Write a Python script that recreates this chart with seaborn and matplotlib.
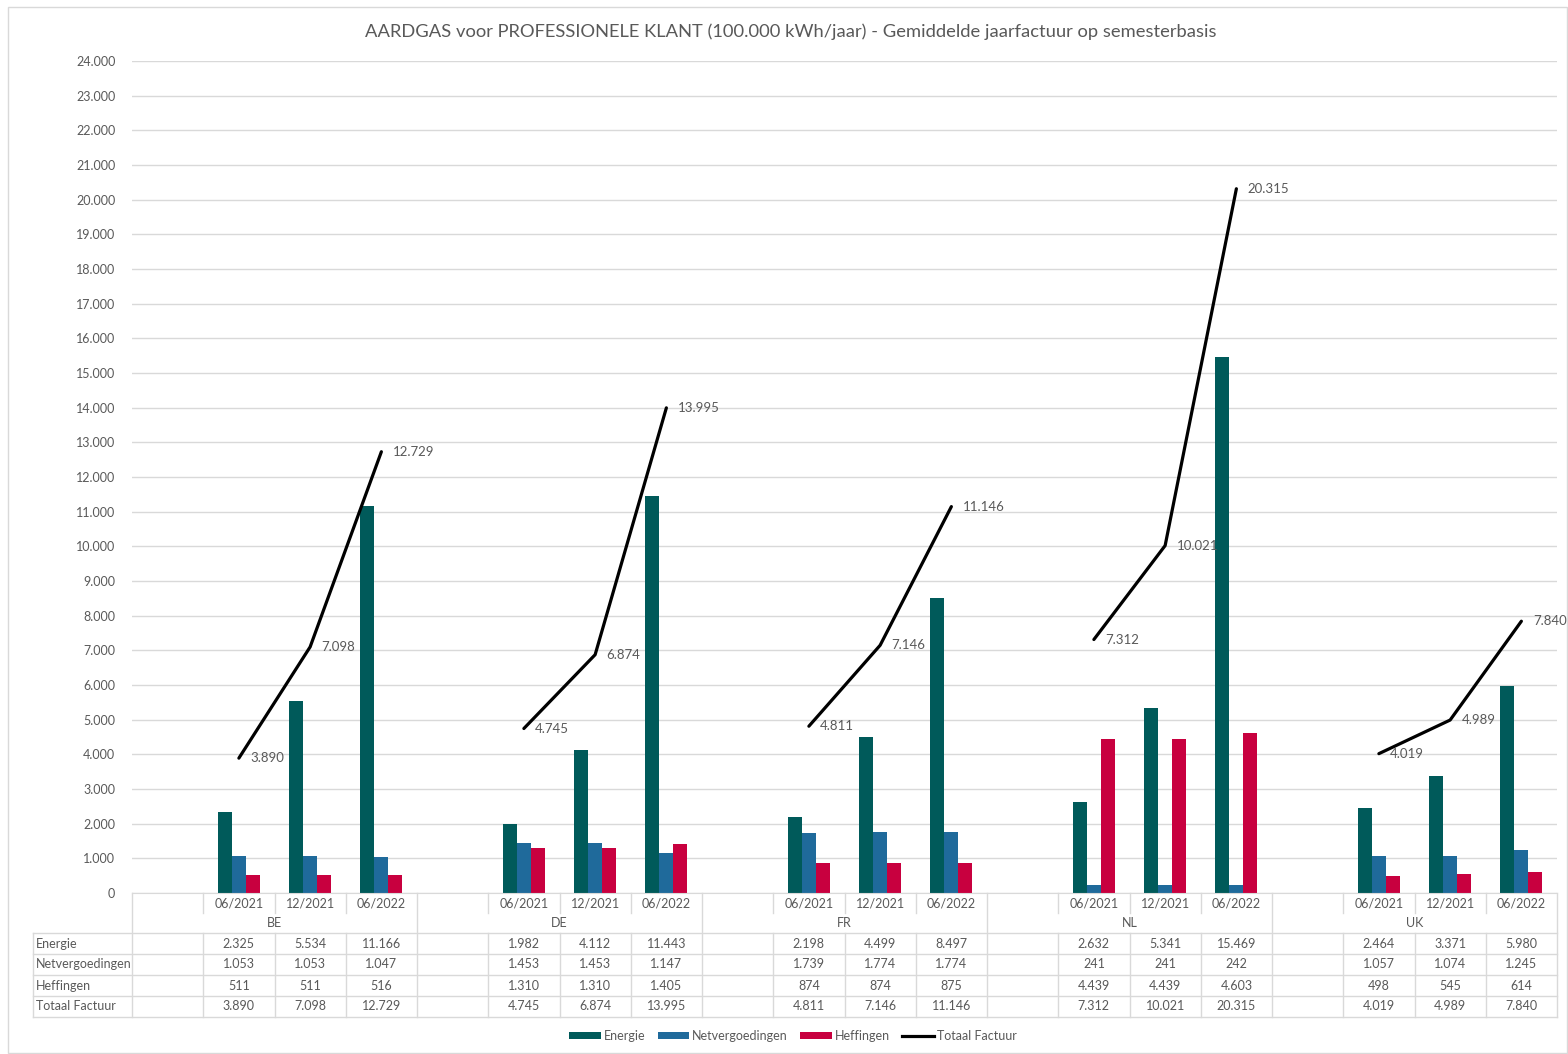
import numpy as np
import pandas as pd
import seaborn as sns
import matplotlib.pyplot as plt
from matplotlib.ticker import FuncFormatter, MultipleLocator
from matplotlib.transforms import blended_transform_factory
from matplotlib.lines import Line2D
from matplotlib.patches import Rectangle

# data
countries = ['BE', 'DE', 'FR', 'NL', 'UK']
periods = ['06/2021', '12/2021', '06/2022']
series = ['Energie', 'Netvergoedingen', 'Heffingen']

energie = {'BE': [2325, 5534, 11166], 'DE': [1982, 4112, 11443], 'FR': [2198, 4499, 8497],
           'NL': [2632, 5341, 15469], 'UK': [2464, 3371, 5980]}
netvergoedingen = {'BE': [1053, 1053, 1047], 'DE': [1453, 1453, 1147], 'FR': [1739, 1774, 1774],
                   'NL': [241, 241, 242], 'UK': [1057, 1074, 1245]}
heffingen = {'BE': [511, 511, 516], 'DE': [1310, 1310, 1405], 'FR': [874, 874, 875],
             'NL': [4439, 4439, 4603], 'UK': [498, 545, 614]}
totaal = {'BE': [3890, 7098, 12729], 'DE': [4745, 6874, 13995], 'FR': [4811, 7146, 11146],
          'NL': [7312, 10021, 20315], 'UK': [4019, 4989, 7840]}

colors = {'Energie': '#005A5A', 'Netvergoedingen': '#1F6A9B', 'Heffingen': '#C8003F'}
grid_c = '#D9D9D9'
txt_c = '#595959'

# every country gets an empty slot in front of its three periods
order = []
for c in countries:
    order.append(c + ' ')
    order += [c + ' ' + p for p in periods]

rows = []
for name, src in zip(series, [energie, netvergoedingen, heffingen]):
    for c in countries:
        for p, v in zip(periods, src[c]):
            rows.append({'slot': c + ' ' + p, 'serie': name, 'value': v})
df = pd.DataFrame(rows)

W, H = 1568, 1054
plt.rcParams['font.family'] = ['Lato', 'DejaVu Sans']
fig = plt.figure(figsize=(W / 100, H / 100), dpi=100)
ax_top, ax_bot = 61, 893
ax = fig.add_axes([132 / W, 1 - ax_bot / H, (1557 - 132) / W, (ax_bot - ax_top) / H])

sns.barplot(data=df, x='slot', y='value', hue='serie', order=order, hue_order=series,
            palette=colors, width=0.59, saturation=1, errorbar=None, ax=ax, linewidth=0)

# total line, broken at the empty slots
tot_vals = []
for c in countries:
    tot_vals.append(np.nan)
    tot_vals += totaal[c]
xs = np.arange(len(order))
ax.plot(xs, tot_vals, color='black', lw=2.3, solid_capstyle='round', zorder=5)
for x, v in zip(xs, tot_vals):
    if not np.isnan(v):
        ax.text(x + 0.16, v, f'{v:,.0f}'.replace(',', '.'), ha='left', va='center',
                fontsize=9.5, color=txt_c, zorder=6)

ax.set_ylim(0, 24000)
ax.set_xlim(-0.5, len(order) - 0.5)
ax.yaxis.set_major_locator(MultipleLocator(1000))
ax.yaxis.set_major_formatter(FuncFormatter(lambda v, p: f'{int(v):,}'.replace(',', '.')))
ax.grid(axis='y', color=grid_c, lw=1)
ax.set_axisbelow(True)
ax.tick_params(axis='y', length=0, labelsize=9, labelcolor=txt_c, pad=12)
ax.tick_params(axis='x', length=0, labelbottom=False)
ax.set_xlabel('')
ax.set_ylabel('')
for s in ['top', 'right', 'left']:
    ax.spines[s].set_visible(False)
ax.spines['bottom'].set_color(grid_c)
handles, labels = ax.get_legend_handles_labels()
ax.get_legend().remove()

fig.text(791 / W, 1 - 32 / H,
         'AARDGAS voor PROFESSIONELE KLANT (100.000 kWh/jaar) - Gemiddelde jaarfactuur op semesterbasis',
         ha='center', va='center', fontsize=13.2, color=txt_c)

# data table below the axis
tr = blended_transform_factory(ax.transData, fig.transFigure)
def fy(py):
    return 1 - py / H

left_x = -0.5 - (132 - 33) / ((1557 - 132) / len(order))
row_edges = [933, 954, 975, 996, 1017]
for ry in row_edges:
    ax.add_line(Line2D([left_x, len(order) - 0.5], [fy(ry), fy(ry)],
                       transform=tr, color=grid_c, lw=1, clip_on=False))
ax.add_line(Line2D([left_x, left_x], [fy(933), fy(1017)], transform=tr, color=grid_c, lw=1, clip_on=False))
ax.add_line(Line2D([-0.5, -0.5], [fy(893), fy(1017)], transform=tr, color=grid_c, lw=1, clip_on=False))
for i in range(len(order)):
    xb = i + 0.5
    if (i + 1) % 4 == 0:
        ax.add_line(Line2D([xb, xb], [fy(893), fy(1017)], transform=tr, color=grid_c, lw=1, clip_on=False))
    else:
        ax.add_line(Line2D([xb, xb], [fy(893), fy(913)], transform=tr, color=grid_c, lw=1, clip_on=False))
        ax.add_line(Line2D([xb, xb], [fy(933), fy(1017)], transform=tr, color=grid_c, lw=1, clip_on=False))

table_rows = [('Energie', energie), ('Netvergoedingen', netvergoedingen),
              ('Heffingen', heffingen), ('Totaal Factuur', totaal)]
for gi, c in enumerate(countries):
    base = gi * 4
    ax.text(base + 1.5, fy(923), c, transform=tr, ha='center', va='center', fontsize=9, color=txt_c)
    for pi, p in enumerate(periods):
        ax.text(base + 1 + pi, fy(903), p, transform=tr, ha='center', va='center', fontsize=9, color=txt_c)
        for ri, (name, src) in enumerate(table_rows):
            yc = (row_edges[ri] + row_edges[ri + 1]) / 2
            ax.text(base + 1 + pi, fy(yc), f'{src[c][pi]:,}'.replace(',', '.'), transform=tr,
                    ha='center', va='center', fontsize=9, color=txt_c)
for ri, (name, src) in enumerate(table_rows):
    yc = (row_edges[ri] + row_edges[ri + 1]) / 2
    fig.text(36 / W, fy(yc), name, ha='left', va='center', fontsize=9, color=txt_c)

handles.append(Line2D([], [], color='black', lw=2.3))
labels.append('Totaal Factuur')
fig.legend(handles, labels, loc='center', bbox_to_anchor=(793 / W, fy(1036)), ncol=4, frameon=False,
           fontsize=9, labelcolor=txt_c, handlelength=2.5, handleheight=0.5, handletextpad=0.25,
           columnspacing=1.0)

fig.patches.append(Rectangle((8 / W, 1 / H), (W - 9) / W, (H - 8) / H, transform=fig.transFigure,
                             fill=False, edgecolor=grid_c, lw=1))

fig.savefig('out.png', dpi=100)
